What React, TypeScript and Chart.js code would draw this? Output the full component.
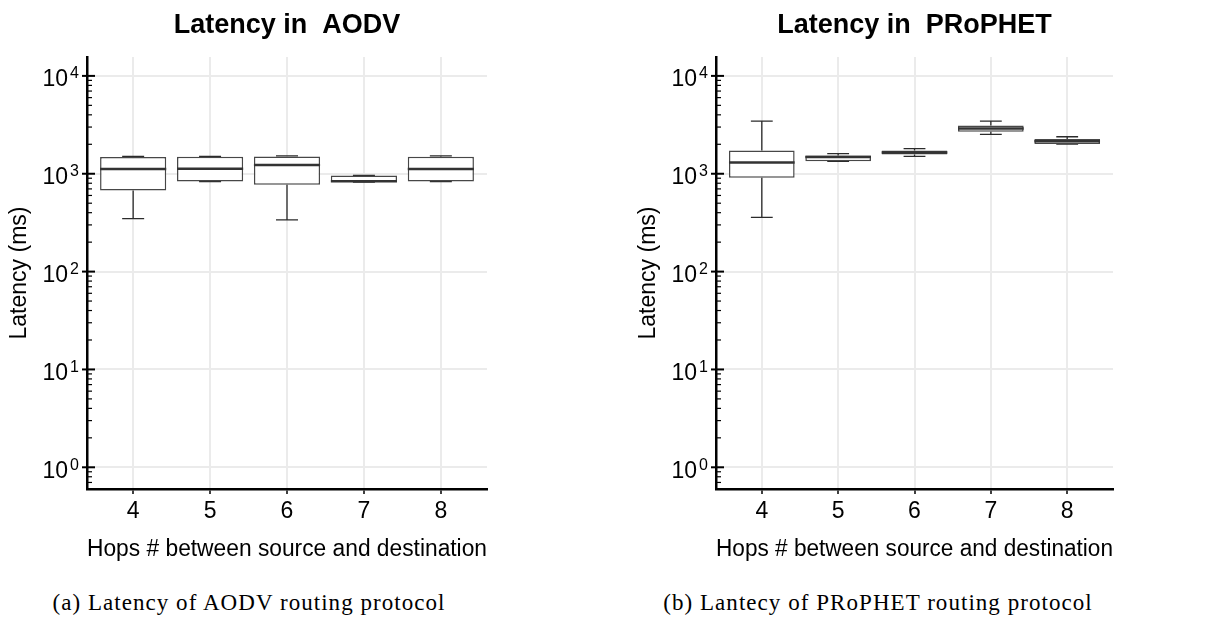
import React, { useEffect, useRef } from 'react';
import { Chart, registerables } from 'chart.js';

Chart.register(...registerables);

// ---------- data ----------
const HOPS = [4, 5, 6, 7, 8];
const X_TICKS = [4, 5, 6, 7, 8];
const Y_MIN = 0.626;
const Y_MAX = 15600;
const Y_MAJOR_TICKS = [1, 10, 100, 1000, 10000];
const Y_MAJOR_BASE = '10';
const Y_MAJOR_EXPONENTS = ['0', '1', '2', '3', '4'];
const Y_MINOR_TICKS = [
  0.7, 0.8, 0.9,
  2, 3, 4, 5, 6, 7, 8, 9,
  20, 30, 40, 50, 60, 70, 80, 90,
  200, 300, 400, 500, 600, 700, 800, 900,
  2000, 3000, 4000, 5000, 6000, 7000, 8000, 9000,
];

const AODV_MIN = [348, 832, 338, 820, 832];
const AODV_Q1 = [676, 835, 773, 824, 835];
const AODV_MED = [1116, 1124, 1226, 840, 1116];
const AODV_Q3 = [1480, 1490, 1500, 961, 1490];
const AODV_MAX = [1500, 1500, 1525, 963, 1525];

const PROPHET_MIN = [358, 1340, 1508, 2521, 2010];
const PROPHET_Q1 = [911, 1343, 1569, 2685, 2014];
const PROPHET_MED = [1302, 1486, 1644, 2901, 2143];
const PROPHET_Q3 = [1724, 1533, 1724, 3111, 2264];
const PROPHET_MAX = [3443, 1607, 1806, 3443, 2389];

const TITLES = ['Latency in  AODV', 'Latency in  PRoPHET'];
const Y_TITLE = 'Latency (ms)';
const X_TITLE = 'Hops # between source and destination';
const CAPTIONS = ['(a) Latency of AODV routing protocol', '(b) Lantecy of PRoPHET routing protocol'];

// ---------- style ----------
const SANS = '"Liberation Sans", Arial, Helvetica, sans-serif';
const SERIF = '"Liberation Serif", "Times New Roman", serif';
const GRID = '#ebebeb';
const BOX_HALF = 0.43;
const CAP_HALF = 0.143;
const Y_LABEL_PAD = 19;

const majorIndex = (v: number) => Y_MAJOR_TICKS.findIndex((m) => Math.abs(m - v) < 1e-9);
const isMajor = (v: number) => majorIndex(v) >= 0;

// tick marks (major crossing the axis, minor inward) and exponent superscripts
const yAxisDecor = {
  id: 'yAxisDecor',
  afterDraw(chart: any) {
    const s = chart.scales.y;
    const ctx = chart.ctx;
    const x0 = chart.chartArea.left;
    ctx.save();
    ctx.strokeStyle = '#000';
    s.ticks.forEach((t: any) => {
      const y = s.getPixelForValue(t.value);
      const major = isMajor(t.value);
      ctx.lineWidth = major ? 2 : 1.2;
      ctx.beginPath();
      ctx.moveTo(major ? x0 - 5 : x0, y);
      ctx.lineTo(major ? x0 + 8 : x0 + 5, y);
      ctx.stroke();
    });
    ctx.fillStyle = '#000';
    ctx.font = `16px ${SANS}`;
    ctx.textAlign = 'left';
    ctx.textBaseline = 'alphabetic';
    Y_MAJOR_TICKS.forEach((v, k) => {
      const y = s.getPixelForValue(v);
      ctx.fillText(Y_MAJOR_EXPONENTS[k], x0 - Y_LABEL_PAD + 2, y + 2.5);
    });
    ctx.restore();
  },
};

type Stats = { min: number[]; q1: number[]; med: number[]; q3: number[]; max: number[] };
type Geo = { width: number; height: number; yAxisWidth: number; padRight: number; yTitlePad: number };

function BoxPlotChart({ title, stats, geo }: { title: string; stats: Stats; geo: Geo }) {
  const ref = useRef<HTMLCanvasElement | null>(null);

  useEffect(() => {
    if (!ref.current) return;
    const { min, q1, med, q3, max } = stats;
    const boxData = HOPS.map((h, i) => ({ x: h, y: [q1[i], q3[i]] }));
    const medData = HOPS.flatMap((h, i) => [
      { x: h - BOX_HALF, y: med[i] },
      { x: h + BOX_HALF, y: med[i] },
      { x: h, y: null },
    ]);
    const whiskData = HOPS.flatMap((h, i) => [
      { x: h, y: q3[i] }, { x: h, y: max[i] }, { x: h, y: null },
      { x: h - CAP_HALF, y: max[i] }, { x: h + CAP_HALF, y: max[i] }, { x: h, y: null },
      { x: h, y: q1[i] }, { x: h, y: min[i] }, { x: h, y: null },
      { x: h - CAP_HALF, y: min[i] }, { x: h + CAP_HALF, y: min[i] }, { x: h, y: null },
    ]);

    const chart = new Chart(ref.current, {
      type: 'bar',
      data: {
        datasets: [
          {
            type: 'line',
            data: whiskData as any,
            borderColor: '#2b2b2b',
            borderWidth: 1.3,
            pointRadius: 0,
            pointHoverRadius: 0,
            spanGaps: false,
            tension: 0,
            order: 3,
          } as any,
          {
            type: 'bar',
            data: boxData as any,
            backgroundColor: '#ffffff',
            borderColor: '#474747',
            borderWidth: 1.5,
            borderSkipped: false,
            barPercentage: 0.86,
            categoryPercentage: 1,
            order: 2,
          } as any,
          {
            type: 'line',
            data: medData as any,
            borderColor: '#333333',
            borderWidth: 2.5,
            pointRadius: 0,
            pointHoverRadius: 0,
            spanGaps: false,
            tension: 0,
            order: 1,
          } as any,
        ],
      },
      options: {
        responsive: false,
        animation: false,
        devicePixelRatio: 1,
        events: [],
        layout: { padding: { left: 0, top: 0, bottom: 0, right: geo.padRight } },
        plugins: {
          legend: { display: false },
          tooltip: { enabled: false },
          title: {
            display: true,
            text: title,
            fullSize: false,
            color: '#000',
            font: { family: SANS, size: 27, weight: 'bold', lineHeight: 1.2 },
            padding: { top: 9.4, bottom: 15.2 },
          },
        },
        scales: {
          x: {
            type: 'linear',
            min: 3.4,
            max: 8.6,
            offset: false,
            afterBuildTicks: (axis: any) => {
              axis.ticks = X_TICKS.map((v) => ({ value: v }));
            },
            afterFit: (scale: any) => {
              scale.height = geo.height - 489;
            },
            grid: {
              offset: false,
              color: GRID,
              lineWidth: 2,
              drawTicks: true,
              tickLength: 5,
              tickColor: '#000',
              tickWidth: 1.5,
            },
            border: { display: true, color: '#000', width: 2.5 },
            ticks: {
              autoSkip: false,
              maxRotation: 0,
              padding: 4,
              color: '#000',
              font: { family: SANS, size: 23 },
              callback: (v: any) => String(v),
            },
            title: {
              display: true,
              text: X_TITLE,
              color: '#000',
              font: { family: SANS, size: 23, lineHeight: 1.2 },
              padding: { top: 0, bottom: 11.9 },
            },
          },
          y: {
            type: 'logarithmic',
            min: Y_MIN,
            max: Y_MAX,
            afterBuildTicks: (axis: any) => {
              axis.ticks = [...Y_MINOR_TICKS, ...Y_MAJOR_TICKS]
                .sort((a, b) => a - b)
                .map((v) => ({ value: v, major: isMajor(v) }));
            },
            afterFit: (scale: any) => {
              scale.width = geo.yAxisWidth;
            },
            grid: {
              color: (ctx: any) => (ctx.tick && isMajor(ctx.tick.value) ? GRID : 'rgba(0,0,0,0)'),
              lineWidth: 2,
              drawTicks: false,
            },
            border: { display: true, color: '#000', width: 2.5 },
            ticks: {
              autoSkip: false,
              padding: Y_LABEL_PAD,
              labelOffset: 4,
              color: '#000',
              font: { family: SANS, size: 23 },
              callback: (v: any) => (isMajor(Number(v)) ? Y_MAJOR_BASE : ''),
            },
            title: {
              display: true,
              text: Y_TITLE,
              color: '#000',
              font: { family: SANS, size: 23, lineHeight: 1.2 },
              padding: { top: geo.yTitlePad, bottom: 0 },
            },
          },
        },
      } as any,
      plugins: [yAxisDecor],
    });
    return () => chart.destroy();
  }, [title, stats, geo]);

  return (
    <canvas
      ref={ref}
      width={geo.width}
      height={geo.height}
      style={{ display: 'block', width: geo.width, height: geo.height }}
    />
  );
}

const AODV_STATS: Stats = { min: AODV_MIN, q1: AODV_Q1, med: AODV_MED, q3: AODV_Q3, max: AODV_MAX };
const PROPHET_STATS: Stats = { min: PROPHET_MIN, q1: PROPHET_Q1, med: PROPHET_MED, q3: PROPHET_Q3, max: PROPHET_MAX };
const GEO_LEFT: Geo = { width: 600, height: 575, yAxisWidth: 87, padRight: 113, yTitlePad: 6.2 };
const GEO_RIGHT: Geo = { width: 606, height: 575, yAxisWidth: 116, padRight: 93, yTitlePad: 35.2 };

const captionStyle: React.CSSProperties = {
  position: 'absolute',
  top: 591,
  fontFamily: SERIF,
  fontSize: 23,
  lineHeight: '23px',
  letterSpacing: '1.05px',
  textAlign: 'center',
  color: '#000',
  whiteSpace: 'nowrap',
};

export default function App() {
  return (
    <div
      style={{
        position: 'fixed',
        left: 0,
        top: 0,
        width: 1206,
        height: 617,
        background: '#fff',
        overflow: 'hidden',
      }}
    >
      <div style={{ position: 'absolute', left: 0, top: 0 }}>
        <BoxPlotChart title={TITLES[0]} stats={AODV_STATS} geo={GEO_LEFT} />
      </div>
      <div style={{ position: 'absolute', left: 600, top: 0 }}>
        <BoxPlotChart title={TITLES[1]} stats={PROPHET_STATS} geo={GEO_RIGHT} />
      </div>
      <div style={{ ...captionStyle, left: 0, width: 498 }}>{CAPTIONS[0]}</div>
      <div style={{ ...captionStyle, left: 600, width: 556 }}>{CAPTIONS[1]}</div>
    </div>
  );
}
